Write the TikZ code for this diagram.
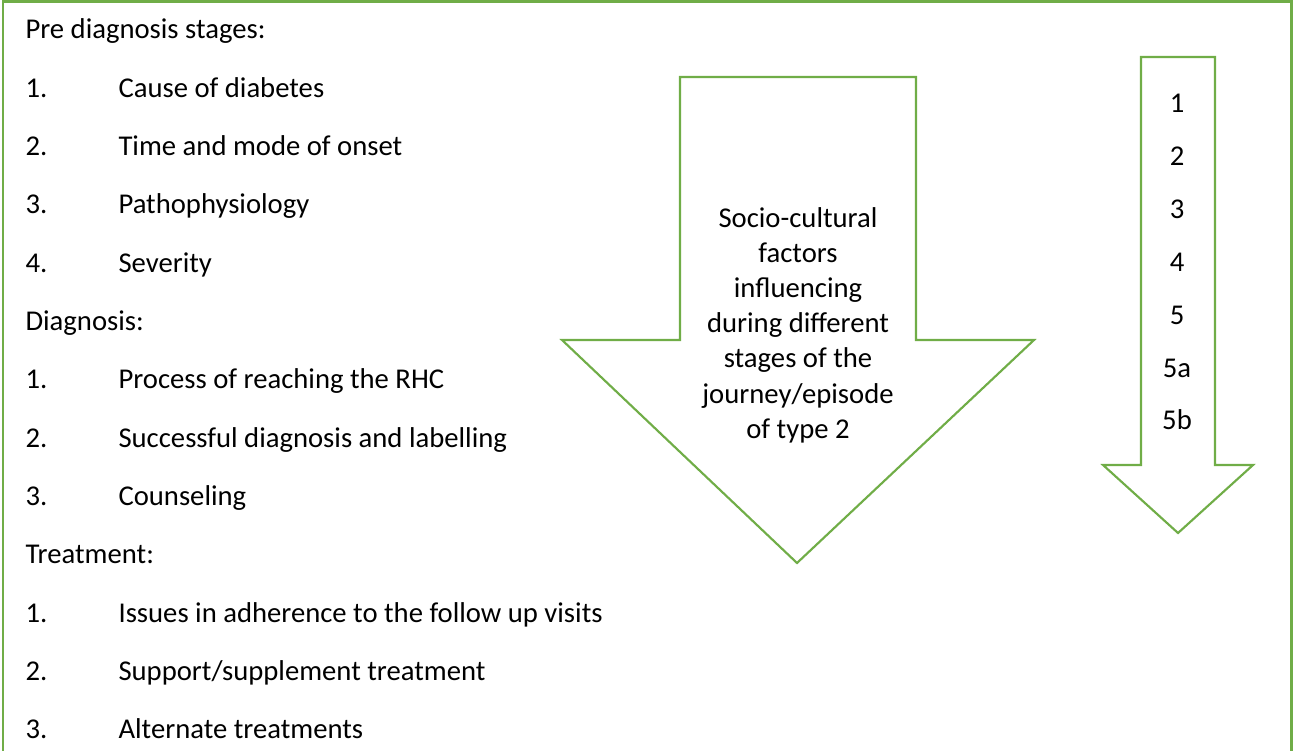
\documentclass[tikz,border=0pt]{standalone}
\usepackage{fontspec}
\setmainfont{Carlito}
\usepackage{xcolor}
\usetikzlibrary{positioning}
\definecolor{officegreen}{HTML}{70AD47}

\begin{document}
\begin{tikzpicture}[x=0.375pt,y=-0.375pt,
    every node/.style={inner sep=0pt,font=\fontsize{10.75}{13}\selectfont},
    head/.style={anchor=base west},
    item/.style={anchor=base west},
    stagearrow/.style={draw=officegreen,line width=0.8pt,fill=white}]
\useasboundingbox (0,0) rectangle (1293,751);
% outer frame, open at the bottom
\draw[officegreen,line width=1.1pt] (3,760) -- (3,1.5) -- (1291.5,1.5) -- (1291.5,760);

% stage headings
\node[head] (pre) at (25,39) {Pre diagnosis stages:};
\node[head] (diag) at (25,39+5*58.33) {Diagnosis:};
\node[head] (treat) at (25,39+9*58.33) {Treatment:};

% numbered items, k = line number
\foreach \k/\n/\t [count=\i] in {1/1./Cause of diabetes,
    2/2./Time and mode of onset,
    3/3./Pathophysiology,
    4/4./Severity,
    6/1./Process of reaching the RHC,
    7/2./Successful diagnosis and labelling,
    8/3./Counseling,
    10/1./Issues in adherence to the follow up visits,
    11/2./{Support/supplement treatment},
    12/3./Alternate treatments}{
  \node[item] (num\i) at (25,39+\k*58.33) {\n};
  \node[item] (item\i) at (118,39+\k*58.33) {\t};
}

% big arrow
\draw[stagearrow] (680,77) -- (916,77) -- (916,340) -- (1034,340) -- (797,563)
    -- (562,340) -- (680,340) -- cycle;
\node[align=center,font=\fontsize{10.75}{13.2}\selectfont] (socio) at (798,325)
    {Socio-cultural\\factors\\influencing\\during different\\stages of the\\journey/episode\\of type 2};

% small arrow
\draw[stagearrow] (1141,57) -- (1215,57) -- (1215,465) -- (1253,465) -- (1178,533)
    -- (1103,465) -- (1141,465) -- cycle;
\foreach \s [count=\i from 0] in {1,2,3,4,5,5a,5b}
  \node[anchor=base] (step\i) at (1177,113+52.8*\i) {\s};
\end{tikzpicture}
\end{document}
